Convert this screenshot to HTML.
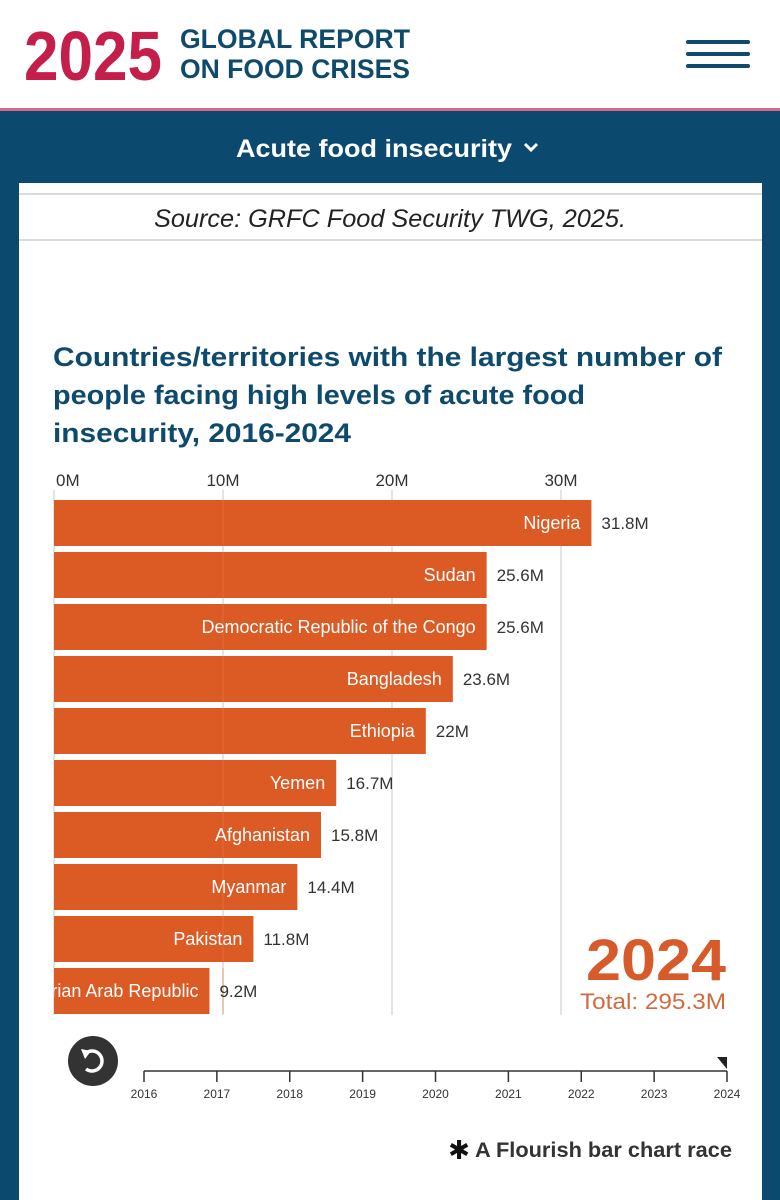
<!DOCTYPE html>
<html><head><meta charset="utf-8">
<style>
html,body{margin:0;padding:0;width:780px;height:1200px;overflow:hidden;background:#fff;font-family:"Liberation Sans",sans-serif;}
</style></head>
<body>
<svg id="page" width="780" height="1200" viewBox="0 0 780 1200" xmlns="http://www.w3.org/2000/svg">
  <rect x="0" y="0" width="780" height="108" fill="#fff"/>
  <text x="24" y="80" font-family="Liberation Sans" font-weight="bold" font-size="70" fill="#c41e4a" textLength="138" lengthAdjust="spacingAndGlyphs">2025</text>
  <text x="180" y="48" font-family="Liberation Sans" font-weight="bold" font-size="27" fill="#0e4a6c" textLength="230" lengthAdjust="spacingAndGlyphs">GLOBAL REPORT</text>
  <text x="180" y="78" font-family="Liberation Sans" font-weight="bold" font-size="27" fill="#0e4a6c" textLength="230" lengthAdjust="spacingAndGlyphs">ON FOOD CRISES</text>
  <g stroke="#0e4a6c" stroke-width="4" stroke-linecap="round">
    <line x1="688" y1="42" x2="748" y2="42"/><line x1="688" y1="54" x2="748" y2="54"/><line x1="688" y1="66" x2="748" y2="66"/>
  </g>
  <rect x="0" y="108" width="780" height="3" fill="#d46b8a"/>
  <rect x="0" y="111" width="780" height="1089" fill="#0b4a6e"/>
  <g>
    <text x="374" y="157" text-anchor="middle" font-family="Liberation Sans" font-weight="bold" font-size="25" fill="#fff" textLength="276" lengthAdjust="spacingAndGlyphs">Acute food insecurity</text>
    <polyline points="525,144 531,150 537,144" fill="none" stroke="#fff" stroke-width="3"/>
  </g>
  <rect x="19" y="183" width="743" height="1017" fill="#fff"/>
  <line x1="19" y1="194" x2="762" y2="194" stroke="#cfcfcf" stroke-width="1.5"/>
  <line x1="19" y1="240" x2="762" y2="240" stroke="#cfcfcf" stroke-width="1.5"/>
  <text x="390" y="227" text-anchor="middle" font-family="Liberation Sans" font-style="italic" font-size="25" fill="#222" textLength="472" lengthAdjust="spacingAndGlyphs">Source: GRFC Food Security TWG, 2025.</text>
  <g font-family="Liberation Sans" font-weight="bold" font-size="27" fill="#0e4a6c">
    <text x="53" y="366" textLength="669" lengthAdjust="spacingAndGlyphs">Countries/territories with the largest number of</text>
    <text x="53" y="404" textLength="532" lengthAdjust="spacingAndGlyphs">people facing high levels of acute food</text>
    <text x="53" y="442" textLength="298" lengthAdjust="spacingAndGlyphs">insecurity, 2016-2024</text>
  </g>
  <g id="grid"></g>
  <g id="bars"></g>
  <text x="726" y="980" text-anchor="end" font-family="Liberation Sans" font-weight="bold" font-size="58" fill="#d65a2a" textLength="140" lengthAdjust="spacingAndGlyphs">2024</text>
  <text x="726" y="1009" text-anchor="end" font-family="Liberation Sans" font-size="22" fill="#d06a40" textLength="146" lengthAdjust="spacingAndGlyphs">Total: 295.3M</text>
  <g>
    <circle cx="93" cy="1061" r="25" fill="#333"/>
    <path d="M86,1053 A10,10 0 1 1 86,1069" fill="none" stroke="#fff" stroke-width="3.5"/>
    <polygon points="81,1049 91,1051 85,1059" fill="#fff"/>
  </g>
  <g id="timeline"></g>
  <g>
    <text x="459" y="1159" text-anchor="middle" font-family="DejaVu Sans" font-weight="bold" font-size="26" fill="#111">✱</text>
    <text x="475" y="1157" font-family="Liberation Sans" font-weight="bold" font-size="21" fill="#333" textLength="257" lengthAdjust="spacingAndGlyphs">A Flourish bar chart race</text>
  </g>
</svg>
<script>
const countries = ["Nigeria","Sudan","Democratic Republic of the Congo","Bangladesh","Ethiopia","Yemen","Afghanistan","Myanmar","Pakistan","Syrian Arab Republic"];
const values = [31.8,25.6,25.6,23.6,22,16.7,15.8,14.4,11.8,9.2];
const valueLabels = ["31.8M","25.6M","25.6M","23.6M","22M","16.7M","15.8M","14.4M","11.8M","9.2M"];
const xTicks = [0,10,20,30];
const xTickLabels = ["0M","10M","20M","30M"];
const years = [2016,2017,2018,2019,2020,2021,2022,2023,2024];
const currentYear = 2024;

const NS="http://www.w3.org/2000/svg";
const x = v => 54 + v*16.9;
const yTop = i => 500 + i*52;
const barH = 46;
const tx = yr => 144 + (yr-years[0])*(583/(years[years.length-1]-years[0]));
function mk(tag, attrs, parent){const e=document.createElementNS(NS,tag);for(const k in attrs)e.setAttribute(k,attrs[k]);parent.appendChild(e);return e;}

const svg=document.getElementById('page');
const defs=mk('defs',{},svg);
const cp=mk('clipPath',{id:'plotclip'},defs);
mk('rect',{x:54,y:480,width:700,height:560},cp);

const grid=document.getElementById('grid');
xTicks.forEach((t,i)=>{
  const gl=mk('line',{x1:x(t),y1:490,x2:x(t),y2:1015,stroke:'#dcdcdc','stroke-width':1.5},grid);
  
  
  const lb=mk('text',{x:i===0?x(t)+2:x(t),y:486,'text-anchor':i===0?'start':'middle','font-family':'Liberation Sans','font-size':17,fill:'#333'},grid);
  lb.textContent=xTickLabels[i];
  
  
});

const bars=document.getElementById('bars');
countries.forEach((c,i)=>{
  const g=mk('g',{},bars);
  
  
  mk('rect',{x:x(0),y:yTop(i),width:x(values[i])-x(0),height:barH,fill:'#dc5a24'},g);
  mk('line',{x1:x(10),y1:yTop(i),x2:x(10),y2:yTop(i)+barH,stroke:'#e8794a','stroke-width':1,opacity:0.6},g);
  const nl=mk('text',{x:x(values[i])-11,y:yTop(i)+29,'text-anchor':'end','font-family':'Liberation Sans','font-size':18,fill:'#fff','clip-path':'url(#plotclip)'},g);
  nl.textContent=c;
  
  
  const vl=mk('text',{x:x(values[i])+10,y:yTop(i)+29,'font-family':'Liberation Sans','font-size':17,fill:'#333'},g);
  vl.textContent=valueLabels[i];
  
  
});

const tl=document.getElementById('timeline');
mk('line',{x1:tx(years[0]),y1:1071,x2:tx(years[years.length-1]),y2:1071,stroke:'#333','stroke-width':1.5},tl);
years.forEach(yr=>{
  const tk=mk('line',{x1:tx(yr),y1:1071,x2:tx(yr),y2:1082,stroke:'#333','stroke-width':1.5},tl);
  
  
  const t=mk('text',{x:tx(yr),y:1098,'text-anchor':'middle','font-family':'Liberation Sans','font-size':12,fill:'#333'},tl);
  t.textContent=yr;
  
  
});
const hx=tx(currentYear);
const h=mk('polygon',{points:(hx-10)+',1057 '+hx+',1057 '+hx+',1069',fill:'#222'},tl);


</script>
</body></html>
